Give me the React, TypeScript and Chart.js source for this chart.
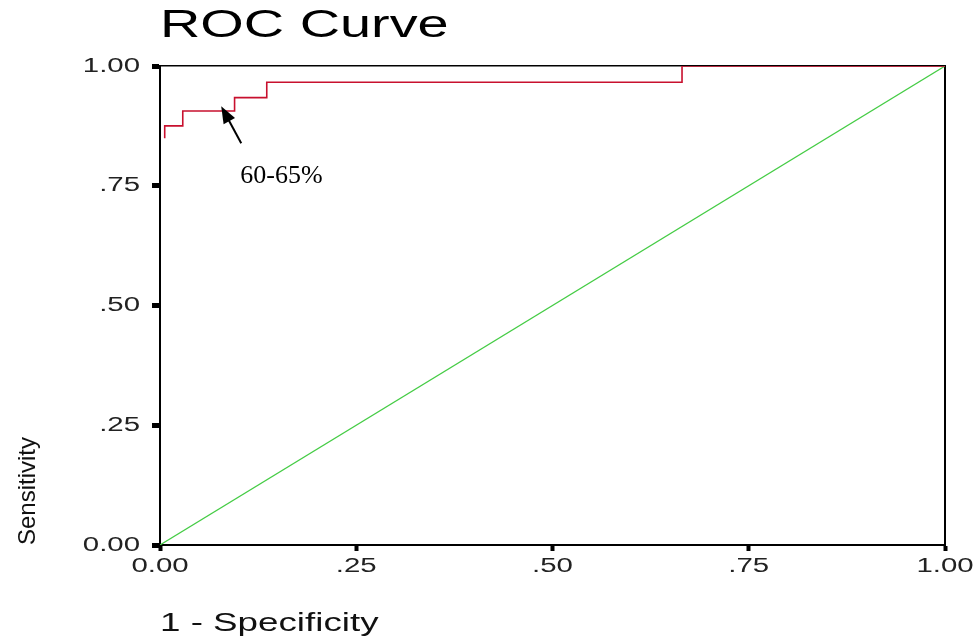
import React, { useEffect, useRef } from 'react';
import { Chart, registerables } from 'chart.js';

Chart.register(...registerables);

// ---- data ----
const rocFpr = [0.006, 0.006, 0.029, 0.095, 0.136, 0.665, 1.0];
const rocTpr = [0.849, 0.875, 0.906, 0.934, 0.966, 1.0, 1.0];
const refFpr = [0, 1];
const refTpr = [0, 1];
const xTickLabels = ['0.00', '.25', '.50', '.75', '1.00'];
const yTickLabels = ['0.00', '.25', '.50', '.75', '1.00'];
const chartTitle = 'ROC Curve';
const xAxisTitle = '1 - Specificity';
const yAxisTitle = 'Sensitivity';
const annotationText = '60-65%';
const annotationPoint = { x: 0.078, y: 0.916 };

const SANS = '"Liberation Sans", Arial, sans-serif';
const TEXT_STRETCH = 1.47;

function installStretch(ctx: any) {
  if (ctx.__rawFillText) return;
  const raw = ctx.fillText.bind(ctx);
  ctx.__rawFillText = raw;
  ctx.fillText = function (text: string, x: number, y: number, maxWidth?: number) {
    const m = ctx.getTransform();
    if (Math.abs(m.b) > 1e-6 || Math.abs(m.c) > 1e-6) {
      if (maxWidth === undefined) raw(text, x, y);
      else raw(text, x, y, maxWidth);
      return;
    }
    ctx.save();
    ctx.translate(x, y);
    ctx.scale(TEXT_STRETCH, 1);
    if (maxWidth === undefined) raw(text, 0, 0);
    else raw(text, 0, 0, maxWidth);
    ctx.restore();
  };
}

const annotationPlugin = {
  id: 'arrowAnnotation',
  afterDatasetsDraw(chart: any) {
    const { ctx, scales } = chart;
    const px = scales.x.getPixelForValue(annotationPoint.x);
    const py = scales.y.getPixelForValue(annotationPoint.y);
    const tx = px + 20;
    const ty = py + 37;
    ctx.save();
    ctx.strokeStyle = '#000';
    ctx.fillStyle = '#000';
    ctx.lineWidth = 2;
    const ang = Math.atan2(py - ty, px - tx);
    const L = 17;
    const W = 6.5;
    ctx.beginPath();
    ctx.moveTo(tx, ty);
    ctx.lineTo(px - (L - 2) * Math.cos(ang), py - (L - 2) * Math.sin(ang));
    ctx.stroke();
    ctx.beginPath();
    ctx.moveTo(px, py);
    ctx.lineTo(px - L * Math.cos(ang) + W * Math.sin(ang), py - L * Math.sin(ang) - W * Math.cos(ang));
    ctx.lineTo(px - L * Math.cos(ang) - W * Math.sin(ang), py - L * Math.sin(ang) + W * Math.cos(ang));
    ctx.closePath();
    ctx.fill();
    ctx.font = '26px "Liberation Serif", "Times New Roman", serif';
    ctx.textAlign = 'left';
    ctx.textBaseline = 'alphabetic';
    const raw = (ctx as any).__rawFillText || ctx.fillText.bind(ctx);
    raw(annotationText, px + 19, py + 77);
    ctx.restore();
  },
};

export default function App() {
  const canvasRef = useRef<HTMLCanvasElement | null>(null);

  useEffect(() => {
    const canvas = canvasRef.current;
    if (!canvas) return;
    const ctx = canvas.getContext('2d');
    installStretch(ctx);

    const chart = new Chart(canvas, {
      type: 'line',
      data: {
        datasets: [
          {
            label: 'ROC',
            data: rocFpr.map((x, i) => ({ x, y: rocTpr[i] })),
            borderColor: '#c8102e',
            borderWidth: 1.6,
            pointRadius: 0,
            stepped: 'before',
            fill: false,
            xAxisID: 'x',
            yAxisID: 'y',
          },
          {
            label: 'Reference',
            data: refFpr.map((x, i) => ({ x, y: refTpr[i] })),
            borderColor: '#45cc45',
            borderWidth: 1.2,
            pointRadius: 0,
            fill: false,
            xAxisID: 'x',
            yAxisID: 'y',
          },
        ],
      },
      options: {
        responsive: false,
        animation: false,
        devicePixelRatio: 1,
        layout: { padding: 0 },
        plugins: {
          legend: { display: false },
          tooltip: { enabled: false },
          title: {
            display: true,
            text: chartTitle,
            align: 'start',
            fullSize: false,
            color: '#000',
            font: { family: SANS, size: 38, weight: 'normal' },
            padding: { top: 4, bottom: 0 },
          },
        },
        scales: {
          x: {
            type: 'linear',
            position: 'bottom',
            min: 0,
            max: 1,
            afterFit: (s: any) => { s.height = 94; },
            ticks: {
              stepSize: 0.25,
              autoSkip: false,
              maxRotation: 0,
              padding: 3,
              color: '#222',
              font: { family: SANS, size: 20 },
              callback: (_v: any, i: number) => xTickLabels[i],
            },
            grid: { display: true, drawOnChartArea: false, drawTicks: true, tickLength: 6, tickWidth: 4, tickColor: '#000' },
            border: { display: true, color: '#000', width: 2 },
            title: {
              display: true,
              text: xAxisTitle,
              align: 'start',
              color: '#111',
              font: { family: SANS, size: 25 },
              padding: { top: 0, bottom: 0 },
            },
          },
          y: {
            type: 'linear',
            position: 'left',
            min: 0,
            max: 1,
            afterFit: (s: any) => { s.width = 160; },
            ticks: {
              stepSize: 0.25,
              padding: 12,
              color: '#222',
              font: { family: SANS, size: 20 },
              callback: (_v: any, i: number) => yTickLabels[i],
            },
            grid: { display: true, drawOnChartArea: false, drawTicks: true, tickLength: 8, tickWidth: 5, tickColor: '#000' },
            border: { display: true, color: '#000', width: 2 },
            title: {
              display: true,
              text: yAxisTitle,
              align: 'start',
              color: '#111',
              font: { family: SANS, size: 24 },
              padding: { top: 14, bottom: 0 },
            },
          },
          x2: {
            type: 'linear',
            position: 'top',
            min: 0,
            max: 1,
            afterFit: (s: any) => { s.height = 16.4; },
            ticks: { display: false },
            grid: { display: true, drawOnChartArea: false, drawTicks: false },
            border: { display: true, color: '#000', width: 1.5 },
          },
          y2: {
            type: 'linear',
            position: 'right',
            min: 0,
            max: 1,
            afterFit: (s: any) => { s.width = 31; },
            ticks: { display: false },
            grid: { display: true, drawOnChartArea: false, drawTicks: false },
            border: { display: true, color: '#000', width: 2 },
          },
        },
      } as any,
      plugins: [annotationPlugin],
    });

    return () => {
      chart.destroy();
    };
  }, []);

  return (
    <div style={{ position: 'fixed', left: 0, top: 0, width: 976, height: 639, background: '#fff' }}>
      <canvas ref={canvasRef} width={976} height={639} style={{ display: 'block', width: 976, height: 639 }} />
    </div>
  );
}
